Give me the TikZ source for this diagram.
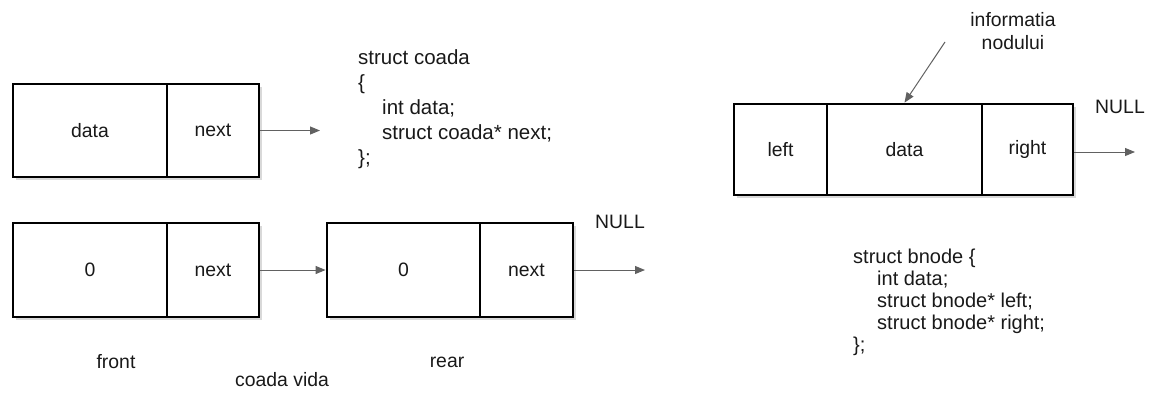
\documentclass[tikz,border=0pt]{standalone}
\usepackage{fontspec}
\setmainfont{Liberation Sans}
\usetikzlibrary{arrows.meta,shadows}

\tikzset{
  cell/.style={draw=black, fill=white, line width=2.8pt, rectangle, inner sep=0pt,
    minimum height=93pt, text=black!90,
    drop shadow={shadow xshift=2.8pt, shadow yshift=-2.8pt, fill=black!15, opacity=1}},
  ptr/.style={draw=black!62, line width=1pt,
    -{Triangle[length=10pt,width=8pt]}},
  label/.style={inner sep=0pt, text=black!90},
  code/.style={inner sep=0pt, align=left, text=black!90, anchor=north west}
}

\begin{document}
\begin{tikzpicture}[x=1pt,y=-1pt,
  every node/.append style={font=\fontsize{19.4}{22.5}\selectfont}]
\useasboundingbox (0,0) rectangle (1153,394);

% singly linked node: data | next
\node[cell, minimum width=154pt] (d1) at (90,130.5) {data};
\node[cell, minimum width=92pt]  (n1) at (213,130.5) {next};
\coordinate (t1) at (320,130.5);
\draw[ptr] (n1.east) -- (t1);

\node[code, font=\fontsize{20.5}{25}\selectfont] (coada) at (358,49)
  {struct coada\\\{\\\hspace*{24pt}int data;\\\hspace*{24pt}struct coada* next;\\\};};

% queue: front -> rear -> NULL
\node[cell, minimum width=154pt, minimum height=94pt] (fd) at (90,270) {0};
\node[cell, minimum width=92pt, minimum height=94pt]  (fn) at (213,270) {next};
\node[cell, minimum width=153pt, minimum height=94pt] (rd) at (403.5,270) {0};
\node[cell, minimum width=93pt, minimum height=94pt]  (rn) at (526.5,270) {next};
\coordinate (t2) at (645,270);
\draw[ptr] (fn.east) -- (rd.west);
\draw[ptr] (rn.east) -- (t2);
\node[label] (null1) at (620,222) {NULL};

\node[label] (front) at (116,362) {front};
\node[label] (rear)  at (447,362) {rear};
\node[label] (vida)  at (282,380) {coada vida};

% doubly linked node: left | data | right
\node[cell, minimum width=93pt, minimum height=91pt]  (bl) at (780.5,149.5) {left};
\node[cell, minimum width=155pt, minimum height=91pt] (bd) at (904.5,149.5) {data};
\node[cell, minimum width=91pt, minimum height=91pt]  (br) at (1027.5,149.5) {right};
\coordinate (t3) at (1135,152);
\draw[ptr] (br.east |- t3) -- (t3);
\node[label] (null2) at (1120,107) {NULL};

\node[label, align=center] (info) at (1013,31) {informatia\\nodului};
\coordinate (s4) at (945,42);
\draw[ptr] (s4) -- (bd.north);

\node[code, font=\fontsize{20}{22}\selectfont] (bnode) at (853,249)
  {struct bnode \{\\\hspace*{24pt}int data;\\\hspace*{24pt}struct bnode* left;\\\hspace*{24pt}struct bnode* right;\\\};};
\end{tikzpicture}
\end{document}
